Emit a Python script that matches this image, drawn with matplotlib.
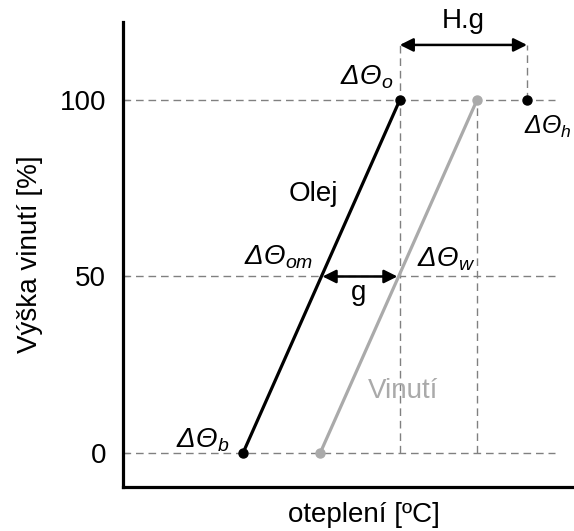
import matplotlib
matplotlib.use("Agg")
import matplotlib.pyplot as plt

plt.rcParams['font.family'] = ['Liberation Sans', 'DejaVu Sans']
# only the Greek labels use mathtext, and they are all italic
plt.rcParams['mathtext.fontset'] = 'custom'
plt.rcParams['mathtext.rm'] = 'Liberation Sans:italic'
plt.rcParams['mathtext.it'] = 'Liberation Sans:italic'

# data (temperature axis in arbitrary units, height in %)
height = [0, 100]
oil_temp = [30, 69.2]          # dTheta_b -> dTheta_o
wind_temp = [49.3, 88.5]       # winding line
hot_spot = 101                 # dTheta_h
oil_mid = 49.6                 # dTheta_om
wind_mid = 68.9                # dTheta_w
yticks = [0, 50, 100]

DASH = dict(color='#808080', lw=1.0, ls=(0, (5.5, 3.5)))

fig = plt.figure(figsize=(5.74, 5.31), dpi=100)
ax = fig.add_axes([0.2143, 0.0829, 0.7857, 0.8757])
ax.set_xlim(0, 112.75)
ax.set_ylim(-9.63, 122.1)

# guide lines
for h in yticks:
    ax.plot([0, 108], [h, h], **DASH)
ax.plot([oil_temp[1], oil_temp[1]], [0, 115.6], **DASH)
ax.plot([wind_temp[1], wind_temp[1]], [0, 100], **DASH)
ax.plot([hot_spot, hot_spot], [100, 115.6], **DASH)

# profiles
ax.plot(oil_temp, height, color='black', lw=2.3, marker='o', ms=6.5, zorder=3)
ax.plot(wind_temp, height, color='#aaaaaa', lw=2.3, marker='o', ms=6.5, zorder=3)
ax.plot([hot_spot], [100], 'o', color='black', ms=6.5, zorder=3)

# arrows
arr = dict(arrowstyle='<|-|>', color='black', lw=1.8, mutation_scale=20, shrinkA=0, shrinkB=0)
ax.annotate('', xy=(oil_mid + 0.3, 50), xytext=(wind_mid - 0.3, 50), arrowprops=arr)
ax.annotate('', xy=(oil_temp[1], 115.6), xytext=(hot_spot, 115.6), arrowprops=arr)


def theta(sub):
    return r'$ΔΘ_{%s}$' % sub


fs = 20
ax.text(59, 45.3, 'g', fontsize=fs, ha='center', va='center')
ax.text(85, 122.5, 'H.g', fontsize=fs, ha='center', va='center', clip_on=False)
ax.text(47.5, 73.5, 'Olej', fontsize=fs, ha='center', va='center')
ax.text(70, 17.5, 'Vinutí', fontsize=fs, ha='center', va='center', color='#aaaaaa')
ax.text(67.6, 106.5, theta('o'), fontsize=fs, ha='right', va='center')
ax.text(100.3, 92.5, theta('h'), fontsize=18, ha='left', va='center')
ax.text(47.5, 55.5, theta('om'), fontsize=fs, ha='right', va='center')
ax.text(73.5, 55, theta('w'), fontsize=fs, ha='left', va='center')
ax.text(26.5, 3.5, theta('b'), fontsize=fs, ha='right', va='center')

for s in ['top', 'right']:
    ax.spines[s].set_visible(False)
for s in ['left', 'bottom']:
    ax.spines[s].set_linewidth(2.3)
ax.set_xticks([])
ax.set_yticks(yticks)
ax.tick_params(axis='y', direction='in', length=4, width=0.8, labelsize=fs, pad=12)
ax.set_ylabel('Výška vinutí [%]', fontsize=fs, labelpad=12)
ax.set_xlabel('oteplení [ºC]', fontsize=fs)
ax.xaxis.set_label_coords(0.535, -0.032)

fig.savefig('out.png', dpi=100)
